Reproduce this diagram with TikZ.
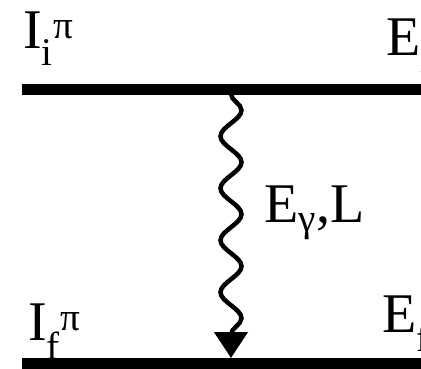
\documentclass[tikz,border=0pt]{standalone}
\usepackage{fontspec}
\setmainfont{Liberation Serif}
\usetikzlibrary{arrows.meta, positioning, decorations.pathmorphing}

\begin{document}
\begin{tikzpicture}[
        x=1pt, y=-1pt,
        level/.style={line width=11pt},
        lbl/.style={anchor=base west, inner sep=0pt, font=\fontsize{56}{60}\selectfont},
        gammaray/.style={line width=4.5pt, decorate,
            decoration={snake, amplitude=10.5pt, segment length=52pt, post length=3pt},
            -{Triangle[width=33pt, length=26pt]}}
    ]
        \clip (0,0) rectangle (421,368);
        % levels
        \draw[level] (22,89) -- (440,89);
        \draw[level] (22,363.5) -- (440,363.5);
        \node[lbl] (spini) at (23,48) {I\textsubscript{i}\textsuperscript{π}};
        \node[lbl] (eni) at (386,55) {E\textsubscript{i}};
        \node[lbl] (spinf) at (28,340) {I\textsubscript{f}\textsuperscript{π}};
        \node[lbl] (enf) at (382,332) {E\textsubscript{f}};
        % transition
        \coordinate (gtop) at (231,94);
        \coordinate (gbot) at (231,358);
        \draw[gammaray] (gtop) -- (gbot);
        \node[lbl] (trans) at (264,222) {E\textsubscript{γ},L};
    \end{tikzpicture}
\end{document}
